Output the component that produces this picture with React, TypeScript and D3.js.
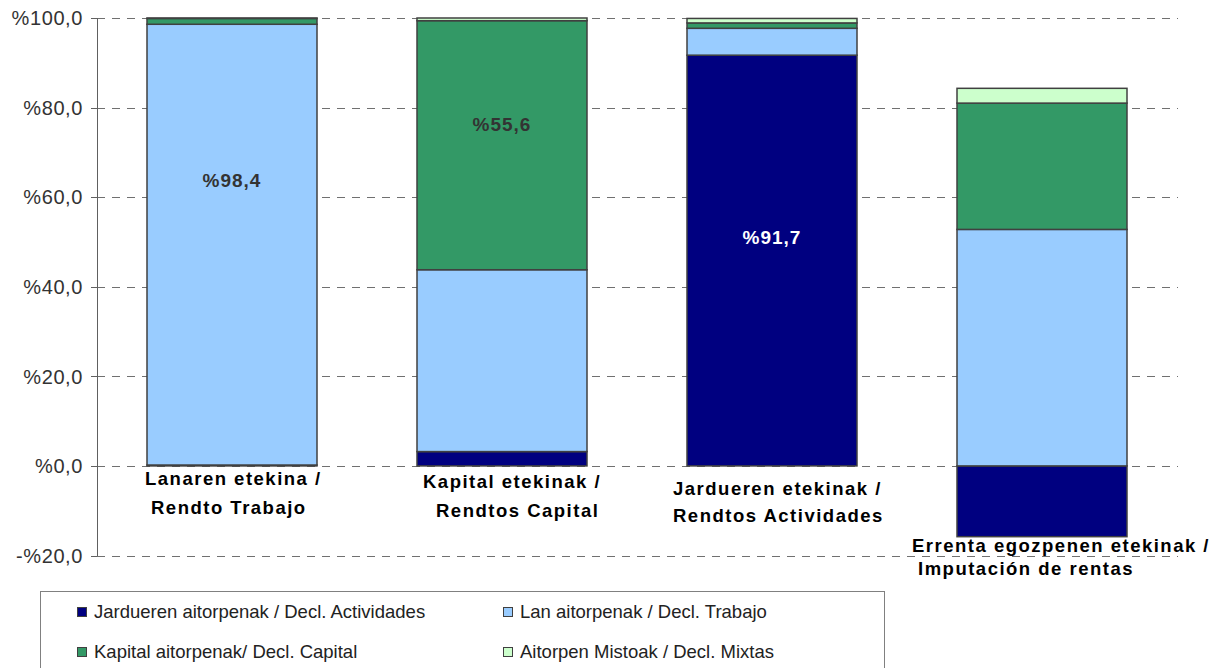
import React from "react";
import * as d3 from "d3";

const categories = [
  "Lanaren etekina / Rendto Trabajo",
  "Kapital etekinak / Rendtos Capital",
  "Jardueren etekinak / Rendtos Actividades",
  "Errenta egozpenen etekinak / Imputación de rentas",
];
const categoryLines = [
  ["Lanaren etekina /", "Rendto Trabajo"],
  ["Kapital etekinak /", "Rendtos Capital"],
  ["Jardueren etekinak /", "Rendtos Actividades"],
  ["Errenta egozpenen etekinak /", "Imputación de rentas"],
];
const seriesNames = [
  "Jardueren aitorpenak / Decl. Actividades",
  "Lan aitorpenak / Decl. Trabajo",
  "Kapital aitorpenak/ Decl. Capital",
  "Aitorpen Mistoak / Decl. Mixtas",
];
const seriesColors = ["#000080", "#99CCFF", "#339966", "#CCFFCC"];
const actividades = [0.2, 3.2, 91.7, -15.8];
const trabajo = [98.4, 40.6, 6.0, 52.8];
const capital = [1.3, 55.6, 1.2, 28.2];
const mixtas = [0.1, 0.6, 1.0, 3.3];
const yTicks = [-20, 0, 20, 40, 60, 80, 100];
const tickLabels = ["-%20,0", "%0,0", "%20,0", "%40,0", "%60,0", "%80,0", "%100,0"];
// data labels: category index, series index, text, value where label sits
const dataLabels = [
  { cat: 0, series: 1, text: "%98,4", at: 63.8 },
  { cat: 1, series: 2, text: "%55,6", at: 76.2 },
  { cat: 2, series: 0, text: "%91,7", at: 51.0 },
];

const W = 1218;
const H = 668;
const FONT = "'Liberation Sans', Arial, sans-serif";

// layout of wrapped category labels (x offset from band centre, baselines)
const catLayout = [
  { dx: [-87, -81], y: [485, 514] },
  { dx: [-79, -66], y: [488, 517] },
  { dx: [-99, -99], y: [495, 522] },
  { dx: [-130, -124], y: [552, 575] },
];

export default function App() {
  const x = d3
    .scaleBand<string>()
    .domain(categories)
    .range([97, 1177])
    .paddingInner(100 / 270)
    .paddingOuter(50 / 270);
  const y = d3.scaleLinear().domain([-20, 100]).range([555.5, 18]);

  const rows = categories.map((c, i) => ({
    cat: c,
    s0: actividades[i],
    s1: trabajo[i],
    s2: capital[i],
    s3: mixtas[i],
  }));
  const stack = d3
    .stack<any>()
    .keys(["s0", "s1", "s2", "s3"])
    .offset(d3.stackOffsetDiverging);
  const layers = stack(rows);

  const legendItems = [
    { s: 0, x: 77, y: 607 },
    { s: 1, x: 503, y: 607 },
    { s: 2, x: 77, y: 647 },
    { s: 3, x: 503, y: 647 },
  ];

  return (
    <svg
      width={W}
      height={H}
      style={{ position: "absolute", left: 0, top: 0, background: "#fff" }}
      fontFamily={FONT}
    >
      {/* gridlines */}
      {yTicks.map((t) => (
        <line
          key={"g" + t}
          x1={97}
          x2={1178}
          y1={Math.round(y(t)) + 0.5}
          y2={Math.round(y(t)) + 0.5}
          stroke="#707070"
          strokeWidth={1}
          strokeDasharray="8,7"
        />
      ))}
      {/* bars */}
      {layers.map((layer, si) =>
        layer.map((d, ci) => {
          const y0 = y(d[0]);
          const y1 = y(d[1]);
          const top = Math.min(y0, y1);
          const h = Math.abs(y1 - y0);
          return (
            <rect
              key={si + "-" + ci}
              x={x(categories[ci])!}
              y={top}
              width={x.bandwidth()}
              height={h}
              fill={seriesColors[si]}
              stroke="#404040"
              strokeWidth={1.5}
            />
          );
        })
      )}
      {/* axis */}
      <line x1={97.5} x2={97.5} y1={18} y2={556} stroke="#606060" strokeWidth={1} />
      {yTicks.map((t, i) => (
        <g key={"t" + t}>
          <line
            x1={91}
            x2={97}
            y1={Math.round(y(t)) + 0.5}
            y2={Math.round(y(t)) + 0.5}
            stroke="#606060"
          />
          <text
            x={83}
            y={y(t)}
            dy="0.36em"
            textAnchor="end"
            fontSize={20}
            fill="#333"
            letterSpacing={0.6}
          >
            {tickLabels[i]}
          </text>
        </g>
      ))}
      {/* data labels */}
      {dataLabels.map((l, i) => (
        <text
          key={"dl" + i}
          x={x(categories[l.cat])! + x.bandwidth() / 2}
          y={y(l.at)}
          dy="0.36em"
          textAnchor="middle"
          fontSize={19}
          fontWeight="bold"
          letterSpacing={1.0}
          fill={l.series === 0 ? "#ffffff" : "#333333"}
        >
          {l.text}
        </text>
      ))}
      {/* category labels */}
      {categoryLines.map((lines, ci) =>
        lines.map((ln, li) => (
          <text
            key={"c" + ci + li}
            x={x(categories[ci])! + x.bandwidth() / 2 + catLayout[ci].dx[li]}
            y={catLayout[ci].y[li]}
            fontSize={18.5}
            fontWeight="bold"
            letterSpacing={1.5}
            fill="#000"
          >
            {ln}
          </text>
        ))
      )}
      {/* legend */}
      <rect x={40.5} y={591.5} width={844} height={90} fill="#fff" stroke="#808080" strokeWidth={1} />
      {legendItems.map((it) => (
        <g key={"l" + it.s}>
          <rect
            x={it.x + 0.5}
            y={it.y + 0.5}
            width={9}
            height={9}
            fill={seriesColors[it.s]}
            stroke="#404040"
            strokeWidth={1}
          />
          <text x={it.x + 17} y={it.y + 11} fontSize={18.5} fill="#222">
            {seriesNames[it.s]}
          </text>
        </g>
      ))}
    </svg>
  );
}
